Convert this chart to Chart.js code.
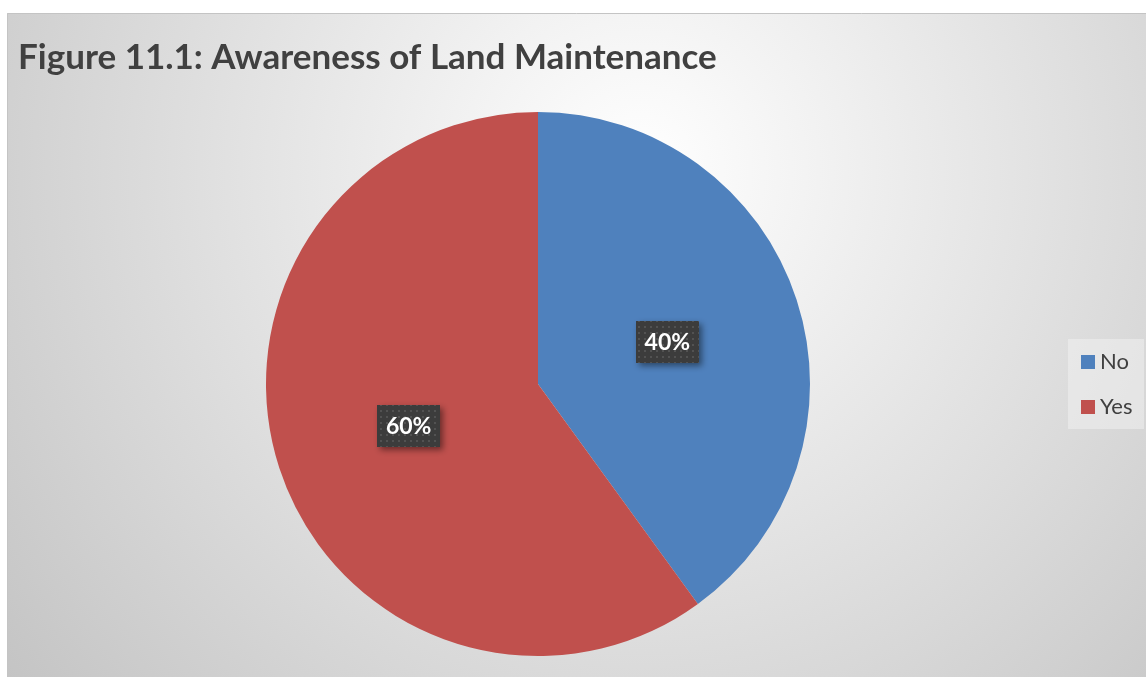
<!DOCTYPE html>
<html>
<head>
<meta charset="utf-8">
<script src="https://cdn.jsdelivr.net/npm/chart.js@4/dist/chart.umd.min.js"></script>
<style>
  html, body { margin: 0; padding: 0; background: #fff; }
  #wrap { width: 1146px; height: 677px; position: relative; }
</style>
</head>
<body>
<div id="wrap"><canvas id="chart_Land"></canvas></div>
<script>
// survey answers
var answerLabels = ["No", "Yes"];
var answerShares = [40, 60];
var sliceColors = ["#4f81bd", "#c0504d"];
var chartTitle = "Figure 11.1: Awareness of Land Maintenance";

// dotted dark fill for the value boxes
function makeDotPattern(ctx) {
  var p = document.createElement("canvas");
  p.width = 6; p.height = 6;
  var pc = p.getContext("2d");
  pc.fillStyle = "#3c3c3c";
  pc.fillRect(0, 0, 6, 6);
  pc.fillStyle = "#525252";
  pc.fillRect(2, 2, 2, 2);
  return ctx.createPattern(p, "repeat");
}

var backdrop = {
  id: "backdrop",
  beforeDraw: function (chart) {
    var ctx = chart.ctx;
    ctx.save();
    ctx.fillStyle = "#ffffff";
    ctx.fillRect(0, 0, chart.width, chart.height);
    var g = ctx.createRadialGradient(640, 170, 0, 640, 170, 840);
    g.addColorStop(0, "#ffffff");
    g.addColorStop(1, "#c2c2c2");
    ctx.fillStyle = g;
    ctx.fillRect(7, 13, chart.width - 7, chart.height - 13);
    ctx.strokeStyle = "#c4c4c4";
    ctx.lineWidth = 1;
    ctx.beginPath();
    ctx.moveTo(7.5, chart.height);
    ctx.lineTo(7.5, 13.5);
    ctx.lineTo(chart.width, 13.5);
    ctx.stroke();

    ctx.fillStyle = "#404040";
    ctx.font = "bold 35px Lato";
    ctx.textBaseline = "alphabetic";
    ctx.fillText(chartTitle, 18, 69);
    ctx.restore();
  }
};

var valueBoxes = {
  id: "valueBoxes",
  afterDatasetsDraw: function (chart) {
    var ctx = chart.ctx;
    var meta = chart.getDatasetMeta(0);
    var data = chart.data.datasets[0].data;
    var total = data.reduce(function (a, b) { return a + b; }, 0);
    var pattern = makeDotPattern(ctx);
    meta.data.forEach(function (arc, i) {
      var pos = arc.tooltipPosition();
      var w = 63, h = 42;
      var x = Math.round(pos.x - w / 2), y = Math.round(pos.y - h / 2);
      ctx.save();
      ctx.shadowColor = "rgba(0,0,0,0.45)";
      ctx.shadowBlur = 6;
      ctx.shadowOffsetX = 3;
      ctx.shadowOffsetY = 3;
      ctx.fillStyle = pattern;
      ctx.fillRect(x, y, w, h);
      ctx.restore();
      ctx.save();
      ctx.fillStyle = "#ffffff";
      ctx.font = "bold 23px Lato";
      ctx.textAlign = "center";
      ctx.textBaseline = "middle";
      ctx.fillText(Math.round(data[i] / total * 100) + "%", pos.x, pos.y + 1);
      ctx.restore();
    });
  }
};

var sideLegend = {
  id: "sideLegend",
  afterDraw: function (chart) {
    var ctx = chart.ctx;
    var ds = chart.data.datasets[0];
    ctx.save();
    ctx.fillStyle = "rgba(240,240,240,0.55)";
    ctx.fillRect(1068, 339, 76, 90);
    ctx.font = "22px Lato";
    ctx.textBaseline = "middle";
    chart.data.labels.forEach(function (lab, i) {
      var cy = 362 + i * 45;
      ctx.fillStyle = ds.backgroundColor[i];
      ctx.fillRect(1081, cy - 7, 14, 14);
      ctx.fillStyle = "#404040";
      ctx.fillText(lab, 1100, cy);
    });
    ctx.restore();
  }
};

function createLandPie() {
  new Chart(document.getElementById("chart_Land"), {
    type: "pie",
    data: {
      labels: answerLabels,
      datasets: [{
        label: "Awareness",
        backgroundColor: sliceColors,
        borderWidth: 0,
        data: answerShares
      }]
    },
    options: {
      responsive: true,
      maintainAspectRatio: false,
      animation: false,
      layout: { padding: { left: 266, right: 336, top: 112, bottom: 21 } },
      plugins: {
        legend: { display: false },
        title: { display: false },
        tooltip: { enabled: false }
      }
    },
    plugins: [backdrop, valueBoxes, sideLegend]
  });
}

createLandPie();
</script>
</body>
</html>
